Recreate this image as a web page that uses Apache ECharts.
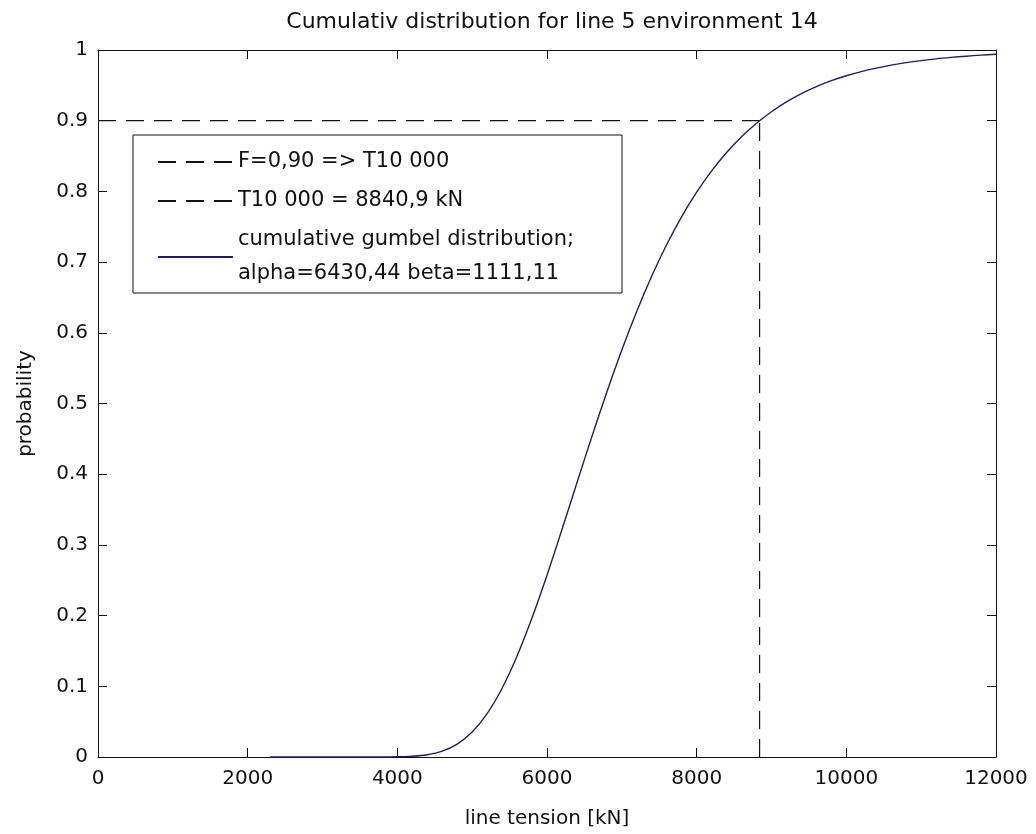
<!DOCTYPE html>
<html>
<head>
<meta charset="utf-8">
<script src="https://cdn.jsdelivr.net/npm/echarts@6/dist/echarts.min.js"></script>
<style>
  html, body { margin: 0; padding: 0; background: #ffffff; }
  #chart { width: 1036px; height: 834px; }
</style>
</head>
<body>
<div id="chart"></div>
<script>
// Line tension samples [kN] and cumulative probability of the fitted Gumbel curve
const tension = [2300, 2600, 3000, 3400, 3800, 4000, 4200, 4400, 4600, 4800, 5000,
  5200, 5400, 5600, 5800, 6000, 6200, 6400, 6600, 6800, 7000, 7200, 7400, 7600,
  7800, 8000, 8200, 8400, 8600, 8800, 9000, 9200, 9400, 9600, 9800, 10000, 10200,
  10400, 10600, 10800, 11000, 11200, 11400, 11600, 11800, 12000];
const probability = [0, 0, 0, 0, 0, 0.0003, 0.0011, 0.0032, 0.0083, 0.0183, 0.0354,
  0.0614, 0.0973, 0.1428, 0.1968, 0.2572, 0.3217, 0.3878, 0.4533, 0.5163, 0.5757,
  0.6305, 0.6803, 0.7249, 0.7644, 0.7989, 0.8290, 0.8550, 0.8774, 0.8965, 0.9127,
  0.9266, 0.9383, 0.9482, 0.9566, 0.9636, 0.9695, 0.9744, 0.9786, 0.9821, 0.9850,
  0.9875, 0.9895, 0.9912, 0.9927, 0.9939];

// Design level: F = 0.90 reached at T10 000
const levelF = 0.9;
const levelT = 8840.9;

const seriesNames = [
  'F=0,90 => T10 000',
  'T10 000 = 8840,9 kN',
  'cumulative gumbel distribution;\nalpha=6430,44 beta=1111,11'
];

const xTicks = { min: 0, max: 12000, interval: 2000 };
const yTicks = { min: 0, max: 1, interval: 0.1 };

const FONT = 'DejaVu Sans';
const INK = '#111111';
const CURVE = '#1e1e64';
const DASH = [18, 10];

const chart = echarts.init(document.getElementById('chart'), null, { renderer: 'canvas' });

const curve = tension.map((t, i) => [t, probability[i]]);

// Boxed axes: frame lines stay on their own edge, ticks point into the plot
const frameLine = { show: true, onZero: false, lineStyle: { color: INK, width: 1 } };
const tick = { show: true, inside: true, length: 9, lineStyle: { color: INK, width: 1 } };
const tickFont = { fontFamily: FONT, fontSize: 20, color: INK };

chart.setOption({
  backgroundColor: '#ffffff',
  animation: false,
  title: {
    text: 'Cumulativ distribution for line 5 environment 14',
    left: 547,
    textAlign: 'center',
    top: 6,
    textStyle: { fontFamily: FONT, fontSize: 22, fontWeight: 'normal', color: INK }
  },
  grid: { left: 98, right: 40, top: 50, bottom: 77, containLabel: false },
  legend: {
    orient: 'vertical',
    left: 133,
    top: 135,
    padding: [10, 48, 2, 24],
    itemGap: 5,
    itemWidth: 75,
    itemHeight: 14,
    borderColor: INK,
    borderWidth: 1,
    borderRadius: 0,
    backgroundColor: '#ffffff',
    // legend keys show the line sample only, no marker
    itemStyle: { opacity: 0 },
    textStyle: { fontFamily: FONT, fontSize: 21, color: INK, lineHeight: 34 },
    data: seriesNames
  },
  xAxis: [
    {
      type: 'value',
      min: xTicks.min, max: xTicks.max, interval: xTicks.interval,
      name: 'line tension [kN]',
      nameLocation: 'middle',
      nameGap: 52,
      nameTextStyle: { fontFamily: FONT, fontSize: 20, color: INK },
      axisLine: frameLine,
      axisTick: tick,
      axisLabel: Object.assign({ margin: 12, formatter: v => String(v) }, tickFont),
      splitLine: { show: false }
    },
    {
      type: 'value', position: 'top',
      min: xTicks.min, max: xTicks.max, interval: xTicks.interval,
      axisLine: frameLine, axisTick: tick,
      axisLabel: { show: false }, splitLine: { show: false }
    }
  ],
  yAxis: [
    {
      type: 'value',
      min: yTicks.min, max: yTicks.max, interval: yTicks.interval,
      name: 'probability',
      nameLocation: 'middle',
      nameGap: 62,
      nameTextStyle: { fontFamily: FONT, fontSize: 20, color: INK },
      axisLine: frameLine,
      axisTick: tick,
      axisLabel: Object.assign({ margin: 10 }, tickFont),
      splitLine: { show: false }
    },
    {
      type: 'value', position: 'right',
      min: yTicks.min, max: yTicks.max, interval: yTicks.interval,
      axisLine: frameLine, axisTick: tick,
      axisLabel: { show: false }, splitLine: { show: false }
    }
  ],
  series: [
    {
      name: seriesNames[0],
      type: 'line',
      data: [[xTicks.min, levelF], [levelT, levelF]],
      symbol: 'none',
      lineStyle: { color: INK, width: 1.2, type: DASH },
      itemStyle: { color: INK },
      z: 3
    },
    {
      name: seriesNames[1],
      type: 'line',
      data: [[levelT, yTicks.min], [levelT, levelF]],
      symbol: 'none',
      lineStyle: { color: INK, width: 1.2, type: DASH },
      itemStyle: { color: INK },
      z: 3
    },
    {
      name: seriesNames[2],
      type: 'line',
      data: curve,
      smooth: 0.3,
      symbol: 'none',
      lineStyle: { color: CURVE, width: 1.4 },
      itemStyle: { color: CURVE },
      z: 4
    }
  ]
});
</script>
</body>
</html>
